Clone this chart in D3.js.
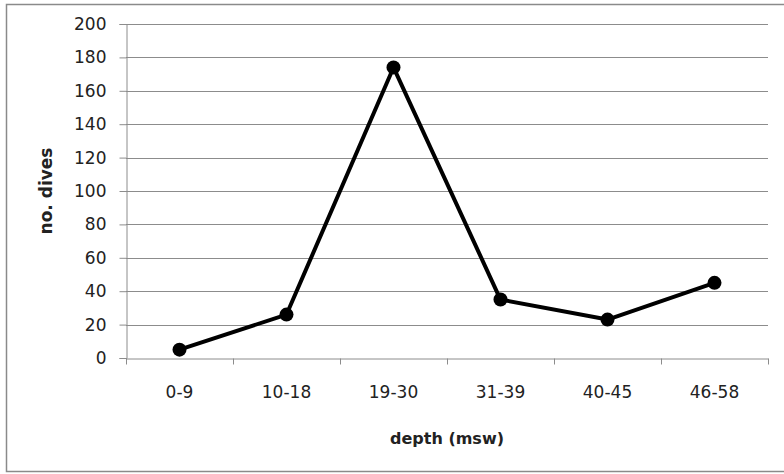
<!DOCTYPE html>
<html>
<head>
<meta charset="utf-8">
<style>
  body { margin: 0; background: #fff; }
  text { font-family: "DejaVu Sans", "Open Sans", sans-serif; fill: #222; }
</style>
</head>
<body>
<div id="chart"></div>
<script src="https://d3js.org/d3.v7.min.js"></script>
<script>

	var w = 784, h = 474;
	var margin = {top: 24, right: 16, bottom: 116, left: 126};

	// data
	var depths = ["0-9", "10-18", "19-30", "31-39", "40-45", "46-58"];
	var dives = [5, 26, 174, 35, 23, 45];
	var yTicks = [0, 20, 40, 60, 80, 100, 120, 140, 160, 180, 200];

	var svg = d3.select("#chart")
				.append("svg")
				.attr("width", w)
				.attr("height", h);

	// outer frame
	svg.append("rect")
	   .attr("x", 6.5)
	   .attr("y", 4.5)
	   .attr("width", w)
	   .attr("height", 467)
	   .attr("fill", "none")
	   .attr("stroke", "#8a8a8a")
	   .attr("stroke-width", 1.5);

	var x = d3.scaleBand()
	          .domain(depths)
	          .range([margin.left, w - margin.right]),
		y = d3.scaleLinear()
		      .domain([0, 200])
		      .range([h - margin.bottom, margin.top]);

	// gridlines
	svg.append("g")
	   .selectAll("line")
	   .data(yTicks.slice(1))
	   .enter()
	   .append("line")
	   .attr("x1", margin.left)
	   .attr("x2", w - margin.right)
	   .attr("y1", function(d) { return Math.round(y(d)) + 0.5; })
	   .attr("y2", function(d) { return Math.round(y(d)) + 0.5; })
	   .attr("stroke", "#8c8c8c")
	   .attr("stroke-width", 1);

	// y axis
	var yAxis = d3.axisLeft(y).tickValues(yTicks).tickSize(7).tickPadding(13);
	var gy = svg.append("g")
	   .attr("transform", "translate(" + (margin.left + 0.5) + ",0)")
	   .call(yAxis);
	gy.selectAll("text")
	  .style("font-size", "17px")
	  .style("font-family", "'DejaVu Sans', sans-serif")
	  .attr("fill", "#222");

	// x axis
	var xAxis = d3.axisBottom(x).tickSize(0).tickPadding(27);
	var gx = svg.append("g")
	   .attr("transform", "translate(0," + (Math.round(y(0)) + 0.5) + ")")
	   .call(xAxis);
	gx.selectAll("text")
	  .style("font-size", "17px")
	  .style("font-family", "'DejaVu Sans', sans-serif")
	  .attr("fill", "#222");

	// category boundary ticks
	gx.selectAll(".bound")
	  .data(depths.concat(["end"]))
	  .enter()
	  .append("line")
	  .attr("class", "bound")
	  .attr("x1", function(d, i) { return Math.round(margin.left + i * x.bandwidth()) + 0.5; })
	  .attr("x2", function(d, i) { return Math.round(margin.left + i * x.bandwidth()) + 0.5; })
	  .attr("y1", 0)
	  .attr("y2", 6)
	  .attr("stroke", "#8c8c8c");

	svg.selectAll(".domain, .tick line").attr("stroke", "#8c8c8c");

	// line and markers
	var line = d3.line()
	             .x(function(d, i) { return x(depths[i]) + x.bandwidth() / 2; })
	             .y(function(d) { return y(d); });

	svg.append("path")
	   .datum(dives)
	   .attr("d", line)
	   .attr("fill", "none")
	   .attr("stroke", "#000")
	   .attr("stroke-width", 4)
	   .attr("stroke-linejoin", "round");

	svg.selectAll("circle")
	   .data(dives)
	   .enter()
	   .append("circle")
	   .attr("cx", function(d, i) { return x(depths[i]) + x.bandwidth() / 2; })
	   .attr("cy", function(d) { return y(d); })
	   .attr("r", 7)
	   .attr("fill", "#000");

	// axis titles
	svg.append("text")
	   .attr("x", (margin.left + w - margin.right) / 2)
	   .attr("y", 444)
	   .attr("text-anchor", "middle")
	   .style("font-size", "16px")
	   .style("font-weight", "bold")
	   .text("depth (msw)");

	svg.append("text")
	   .attr("transform", "translate(52," + ((margin.top + h - margin.bottom) / 2) + ") rotate(-90)")
	   .attr("text-anchor", "middle")
	   .style("font-size", "17px")
	   .style("font-weight", "bold")
	   .text("no. dives");

</script>
</body>
</html>
